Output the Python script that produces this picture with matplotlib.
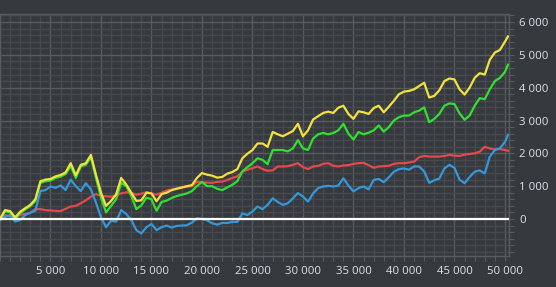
import numpy as np
import matplotlib
matplotlib.use("Agg")
import matplotlib.pyplot as plt
from matplotlib.ticker import FuncFormatter, MultipleLocator, FixedLocator

# x positions (trades) every 500, last point at the end of the data
x_vals = list(range(0, 50500, 500)) + [50300]

yellow = [0, 270, 240, 50, 220, 330, 430, 600, 1150, 1200,
          1220, 1300, 1340, 1420, 1700, 1330, 1650, 1700, 1950, 1350,
          800, 400, 550, 750, 1250, 1050, 800, 550, 570, 800,
          780, 540, 760, 800, 880, 920, 960, 1000, 1030, 1250,
          1400, 1350, 1320, 1260, 1280, 1380, 1430, 1520, 1850, 1990,
          2100, 2300, 2300, 2200, 2650, 2580, 2520, 2600, 2680, 2900,
          2520, 2700, 3030, 3130, 3230, 3270, 3230, 3390, 3450, 3200,
          3050, 3280, 3250, 3200, 3380, 3450, 3250, 3420, 3600, 3800,
          3880, 3900, 3950, 4050, 4150, 3700, 3750, 3920, 4200, 4280,
          4250, 3950, 3790, 4000, 4300, 4440, 4400, 4850, 5070, 5150,
          5400, 5560]

green = [0, 230, 200, 0, 180, 290, 390, 550, 1100, 1150,
         1170, 1250, 1290, 1370, 1620, 1250, 1600, 1650, 1880, 1250,
         650, 200, 400, 600, 1100, 1000, 700, 300, 420, 650,
         600, 250, 520, 560, 640, 700, 740, 780, 850, 1000,
         1130, 1000, 1000, 920, 880, 960, 1040, 1150, 1450, 1580,
         1700, 1850, 1800, 1670, 2100, 2100, 2100, 2060, 2150, 2400,
         2150, 2100, 2450, 2580, 2620, 2580, 2620, 2700, 2900, 2600,
         2420, 2650, 2580, 2630, 2700, 2850, 2660, 2800, 3000, 3100,
         3150, 3150, 3250, 3300, 3400, 2950, 3050, 3200, 3450, 3520,
         3500, 3220, 3020, 3150, 3450, 3680, 3650, 3950, 4200, 4300,
         4480, 4700]

red = [0, 120, 80, 30, 130, 150, 190, 300, 300, 270,
       260, 250, 240, 310, 380, 400, 480, 570, 680, 760,
       700, 690, 680, 720, 780, 810, 800, 740, 770, 820,
       780, 740, 800, 870, 900, 930, 960, 980, 1000, 1130,
       1120, 1110, 1100, 1130, 1140, 1190, 1250, 1300, 1440, 1500,
       1550, 1600, 1520, 1470, 1480, 1600, 1600, 1610, 1650, 1700,
       1580, 1520, 1600, 1620, 1680, 1700, 1620, 1600, 1630, 1640,
       1680, 1700, 1710, 1640, 1560, 1600, 1610, 1620, 1680, 1700,
       1700, 1720, 1750, 1880, 1920, 1900, 1900, 1900, 1920, 1950,
       1930, 1920, 1960, 1980, 2000, 2050, 2200, 2150, 2120, 2130,
       2100, 2080]

blue = [-30, 70, 120, -80, -30, 120, 190, 250, 850, 880,
        990, 950, 1020, 880, 1200, 1000, 850, 1090, 900, 500,
        50, -250, -50, -80, 270, 150, -30, -340, -440, -250,
        -150, -340, -250, -200, -260, -210, -200, -190, -110, 20,
        0, -40, -130, -170, -120, -120, -90, -90, 170, 120,
        230, 380, 300, 430, 630, 520, 430, 480, 630, 790,
        680, 530, 780, 940, 990, 1010, 990, 1020, 1240, 1020,
        840, 940, 990, 900, 1190, 1220, 1120, 1270, 1440, 1520,
        1540, 1500, 1600, 1600, 1450, 1100, 1180, 1230, 1540, 1650,
        1560, 1200, 1090, 1280, 1440, 1480, 1390, 1900, 2100, 2150,
        2350, 2560]

x_ticks = [5000, 10000, 15000, 20000, 25000, 30000, 35000, 40000, 45000, 50000]
y_ticks = [0, 1000, 2000, 3000, 4000, 5000, 6000]

BG = "#36393d"
MINOR = "#46494d"
MAJOR = "#585b5f"
TXT = "#dde4ec"

plt.rcParams['font.family'] = ['Open Sans', 'DejaVu Sans']

fig = plt.figure(figsize=(5.56, 2.87), dpi=100, facecolor=BG)
ax = fig.add_axes([0.0, 1 - 256 / 287, 509 / 556, (256 - 14) / 287])
ax.set_facecolor(BG)

LW = 1.6
ax.plot(x_vals, red, color="#e44a4c", lw=LW, zorder=3)
ax.plot(x_vals, blue, color="#3498db", lw=LW, zorder=4)
ax.plot(x_vals, green, color="#30e030", lw=LW, zorder=5)
ax.plot(x_vals, yellow, color="#f2e23e", lw=LW, zorder=6)
ax.axhline(0, color="white", lw=1.6, zorder=7)

ax.set_xlim(0, 50400)
ax.set_ylim(-1127, 6244)

fmt = FuncFormatter(lambda v, p: f"{int(v):,}".replace(",", " "))
ax.xaxis.set_major_locator(FixedLocator(x_ticks))
ax.xaxis.set_minor_locator(MultipleLocator(1000))
ax.yaxis.set_major_locator(FixedLocator(y_ticks))
ax.yaxis.set_minor_locator(MultipleLocator(200))
ax.xaxis.set_major_formatter(fmt)
ax.yaxis.set_major_formatter(fmt)

ax.grid(which="minor", color=MINOR, lw=1.0, zorder=0)
ax.grid(which="major", color=MAJOR, lw=1.0, zorder=1)
ax.set_axisbelow(True)

ax.yaxis.tick_right()
ax.tick_params(which="both", colors=MAJOR, length=3.5, width=0.8)
ax.tick_params(axis="y", which="both", labelcolor=TXT, labelsize=8.2, pad=4)
ax.tick_params(axis="x", which="both", labelcolor=TXT, labelsize=8.2, pad=4)
for s in ax.spines.values():
    s.set_color(MAJOR)
    s.set_linewidth(1.0)

fig.savefig("out.png", dpi=100, facecolor=BG)
